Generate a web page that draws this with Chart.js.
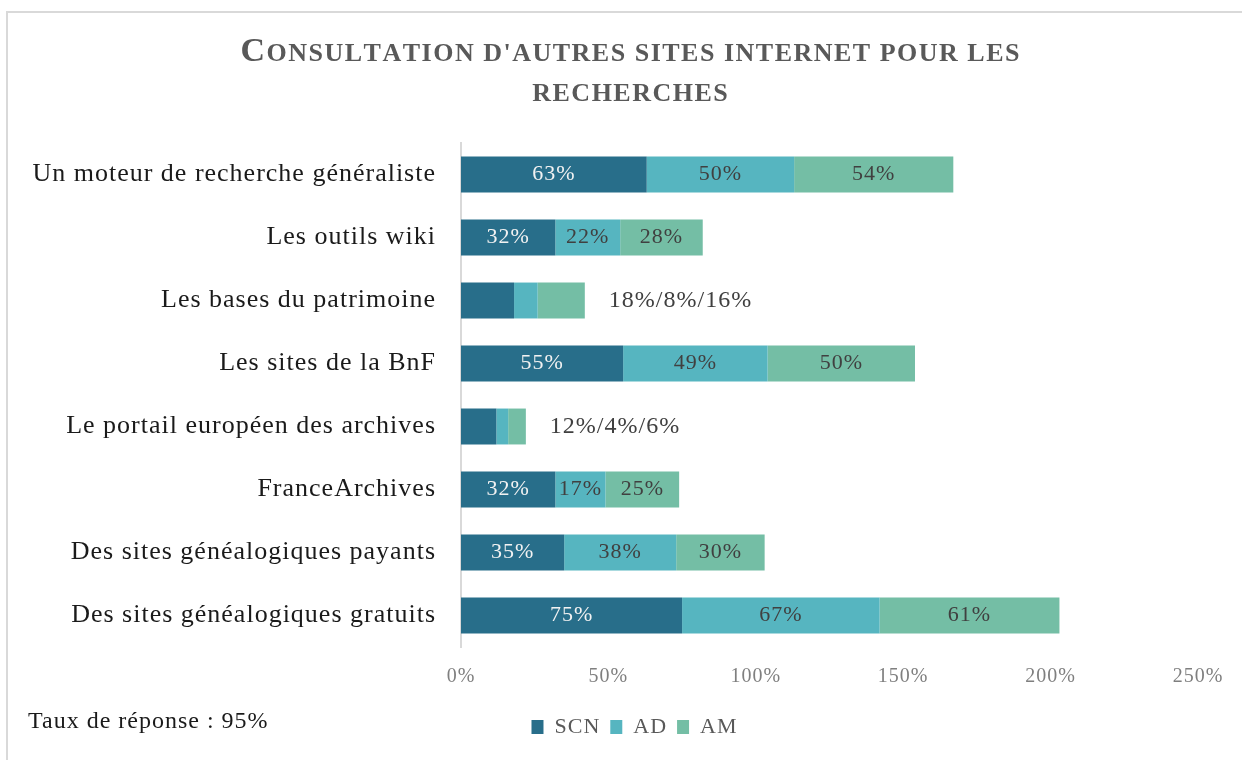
<!DOCTYPE html>
<html lang="fr">
<head>
    <meta charset="UTF-8">
    <title>Consultation d'autres sites internet pour les recherches</title>
    <script src="https://cdn.jsdelivr.net/npm/chart.js"></script>
    <style>
        body { margin: 0; background: #fff; }
        #frame {
            position: absolute; left: 6px; top: 11px; width: 1240px; height: 752px;
            border-left: 2px solid #d9d9d9; border-top: 2px solid #d9d9d9;
        }
        #wrap { position: absolute; left: 0; top: 0; width: 1242px; height: 760px; }
    </style>
</head>
<body>
    <div id="frame"></div>
    <div id="wrap">
        <canvas id="myChart"></canvas>
    </div>
    <script>
        const categories = [
            'Un moteur de recherche généraliste',
            'Les outils wiki',
            'Les bases du patrimoine',
            'Les sites de la BnF',
            'Le portail européen des archives',
            'FranceArchives',
            'Des sites généalogiques payants',
            'Des sites généalogiques gratuits'
        ];
        const scn = [63, 32, 18, 55, 12, 32, 35, 75];
        const ad = [50, 22, 8, 49, 4, 17, 38, 67];
        const am = [54, 28, 16, 50, 6, 25, 30, 61];
        // bars too short for inner labels get one label "a%/b%/c%" beside them
        const combined = [false, false, true, false, true, false, false, false];
        const xTicks = [0, 50, 100, 150, 200, 250];

        const serif = '"Liberation Serif", "DejaVu Serif", serif';

        // the original font (Garamond) is wider, so spread the letters a bit
        const spacingPlugin = {
            id: 'spacing',
            beforeDraw(chart) { chart.ctx.letterSpacing = '1px'; },
            afterLayout(chart) {
                // legend sits under the frame centre, not the canvas centre
                chart.legend.left += 32;
                chart.legend.right += 32;
            }
        };

        const titlePlugin = {
            id: 'smallCapsTitle',
            afterDraw(chart) {
                const ctx = chart.ctx;
                const lines = ["Consultation d'autres sites internet pour les", 'recherches'];
                const ys = [61, 101];
                const big = 'bold 34px ' + serif;
                const small = 'bold 26px ' + serif;
                const gap = 1.5;
                ctx.save();
                ctx.letterSpacing = '0px';
                ctx.fillStyle = '#595959';
                ctx.textBaseline = 'alphabetic';
                ctx.textAlign = 'left';
                lines.forEach((line, k) => {
                    const parts = [];
                    for (const ch of line) {
                        const isUpper = ch !== ch.toLowerCase();
                        parts.push({ t: ch.toUpperCase(), f: isUpper ? big : small });
                    }
                    let w = 0;
                    parts.forEach(p => { ctx.font = p.f; p.w = ctx.measureText(p.t).width + gap; w += p.w; });
                    let x = 630 - (w - gap) / 2;
                    parts.forEach(p => {
                        ctx.font = p.f;
                        ctx.fillText(p.t, x, ys[k]);
                        x += p.w;
                    });
                });
                ctx.letterSpacing = '1px';
                ctx.font = '24px ' + serif;
                ctx.fillStyle = '#1a1a1a';
                ctx.textBaseline = 'middle';
                ctx.fillText('Taux de réponse : 95%', 28, 722);
                ctx.restore();
            }
        };

        const labelPlugin = {
            id: 'barLabels',
            afterDatasetsDraw(chart) {
                const ctx = chart.ctx;
                ctx.save();
                ctx.font = '22px ' + serif;
                ctx.textBaseline = 'middle';
                chart.data.datasets.forEach((ds, d) => {
                    const meta = chart.getDatasetMeta(d);
                    meta.data.forEach((bar, i) => {
                        if (combined[i]) return;
                        const c = bar.getCenterPoint();
                        ctx.textAlign = 'center';
                        ctx.fillStyle = d === 0 ? '#f2f2f2' : '#404040';
                        ctx.fillText(ds.data[i] + '%', c.x, c.y);
                    });
                });
                ctx.font = '24px ' + serif;
                const last = chart.getDatasetMeta(chart.data.datasets.length - 1);
                last.data.forEach((bar, i) => {
                    if (!combined[i]) return;
                    ctx.textAlign = 'left';
                    ctx.fillStyle = '#404040';
                    ctx.fillText(scn[i] + '%/' + ad[i] + '%/' + am[i] + '%', bar.x + 24, bar.y);
                });
                ctx.restore();
            }
        };

        const ctx = document.getElementById('myChart');
        new Chart(ctx, {
            type: 'bar',
            data: {
                labels: categories,
                datasets: [
                    { label: 'SCN', data: scn, backgroundColor: '#286e8a' },
                    { label: 'AD', data: ad, backgroundColor: '#56b5c0' },
                    { label: 'AM', data: am, backgroundColor: '#74bea5' }
                ]
            },
            options: {
                indexAxis: 'y',
                responsive: true,
                maintainAspectRatio: false,
                animation: false,
                barPercentage: 0.57,
                categoryPercentage: 1,
                layout: { padding: { top: 143, right: 44, left: 0, bottom: 12 } },
                scales: {
                    x: {
                        stacked: true,
                        min: 0,
                        max: 250,
                        afterBuildTicks: (scale) => { scale.ticks = xTicks.map(v => ({ value: v })); },
                        afterFit: (scale) => { scale.height = 59; },
                        grid: { display: false },
                        border: { display: false },
                        ticks: {
                            padding: 10,
                            color: '#7f7f7f',
                            font: { family: serif, size: 20 },
                            callback: (v) => v + '%'
                        }
                    },
                    y: {
                        stacked: true,
                        afterFit: (scale) => { scale.width = 461; },
                        grid: { display: false, drawTicks: false },
                        border: { display: true, color: '#d9d9d9', width: 2 },
                        ticks: {
                            padding: 25,
                            color: '#1a1a1a',
                            font: { family: serif, size: 26 }
                        }
                    }
                },
                plugins: {
                    legend: {
                        position: 'bottom',
                        labels: {
                            boxWidth: 12,
                            boxHeight: 14,
                            padding: 10,
                            color: '#595959',
                            font: { family: serif, size: 22 }
                        }
                    },
                    title: { display: false },
                    tooltip: { enabled: false }
                }
            },
            plugins: [spacingPlugin, titlePlugin, labelPlugin]
        });
    </script>
</body>
</html>
